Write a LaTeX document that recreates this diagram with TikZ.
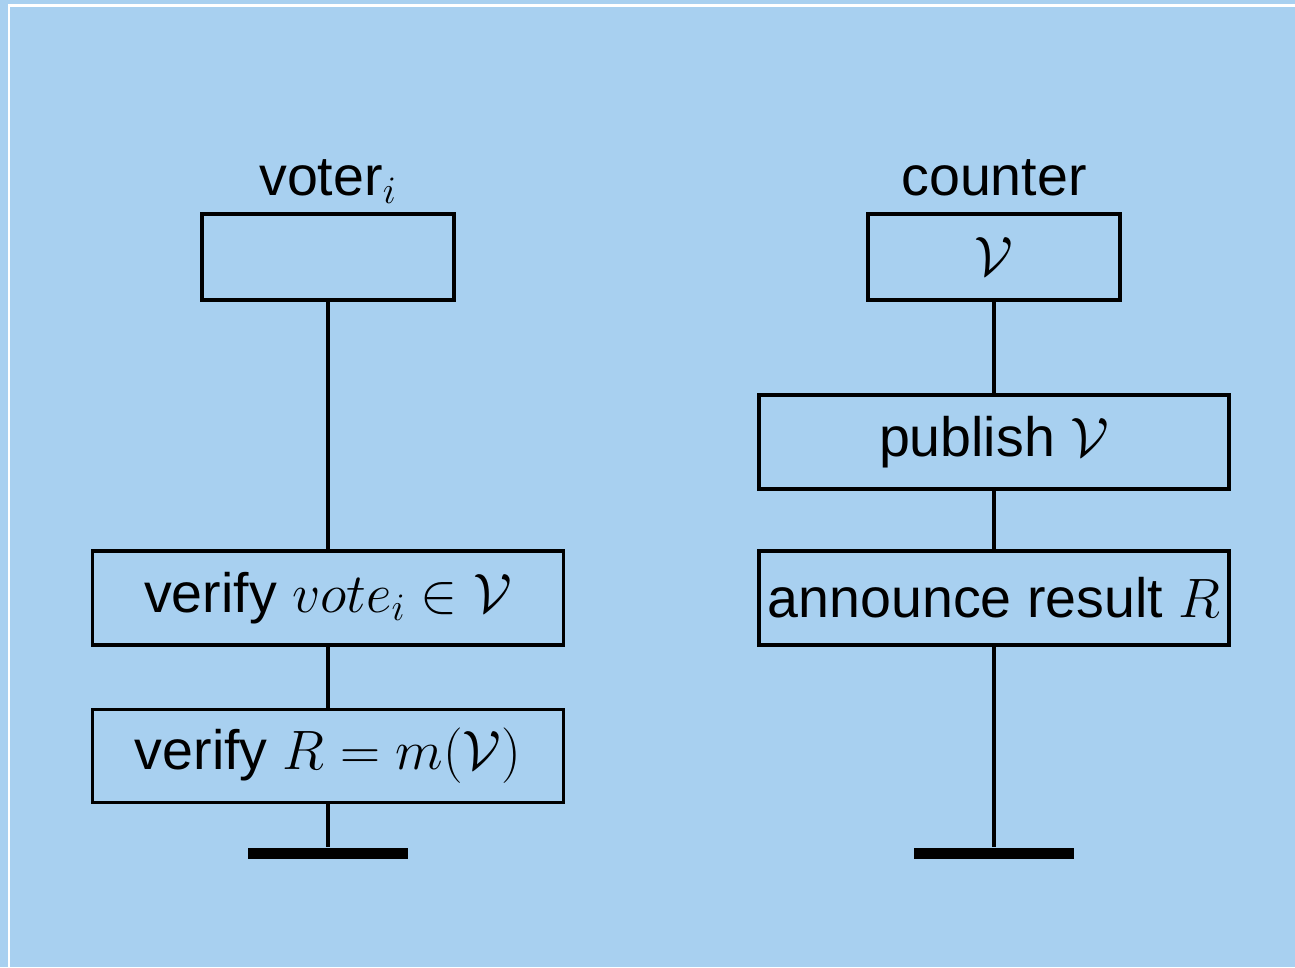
\RequirePackage{fix-cm}
\documentclass[tikz,border=0pt]{standalone}
\usepackage{fontspec}
\usepackage{amsmath}
\usepackage{amssymb}
\setmainfont{Liberation Sans}
\usetikzlibrary{positioning, calc}
\definecolor{slideblue}{RGB}{168,208,240}

\begin{document}
\begin{tikzpicture}[font=\fontsize{31.6pt}{38pt}\selectfont]
    \tikzstyle{action} = [rectangle, minimum width=9.42cm, minimum height=1.88cm, inner sep=2pt, text centered, draw=black, line width=2.1pt]
    \tikzstyle{head} = [rectangle, minimum width=5.04cm, minimum height=1.72cm, draw=black, line width=2.1pt]
    \tikzstyle{stopbar} = [rectangle, fill=black, minimum width=3.2cm, minimum height=0.22cm, inner sep=0pt]
    \tikzstyle{life} = [line width=2.1pt]

    % background and frame
    \fill[slideblue] (0,0) rectangle (25.9,-19.34);
    \useasboundingbox (0,0) rectangle (25.9,-19.34);
    \draw[white, line width=1.2pt] (0.18,-19.34) -- (0.18,-0.11) -- (25.9,-0.11);

    % voter side
    \node[anchor=base] (voterlabel) at (6.56,-3.9) {voter$_i$};
    \node[head] (vtop) at (6.56,-5.14) {};
    \node[action] (vcheck) at (6.56,-11.96) {verify $vote_i \in \mathcal{V}$};
    \node[action, minimum height=1.86cm] (rcheck) at (6.56,-15.12) {verify $R = m(\mathcal{V})$};
    \node[stopbar] (vstop) at (6.56,-17.06) {};

    % counter side
    \node[anchor=base] (counterlabel) at (19.88,-3.9) {counter};
    \node[head] (ctop) at (19.88,-5.14) {$\mathcal{V}$};
    \node[action, minimum width=9.4cm] (publish) at (19.88,-8.84) {publish $\mathcal{V}$};
    \node[action, minimum width=9.4cm] (announce) at (19.88,-11.96) {announce result $R$};
    \node[stopbar] (cstop) at (19.88,-17.06) {};

    \draw[life] (vtop) -- (vcheck);
    \draw[life] (vcheck) -- (rcheck);
    \draw[life] (rcheck) -- (vstop);
    \draw[life] (ctop) -- (publish);
    \draw[life] (publish) -- (announce);
    \draw[life] (announce) -- (cstop);
\end{tikzpicture}
\end{document}
